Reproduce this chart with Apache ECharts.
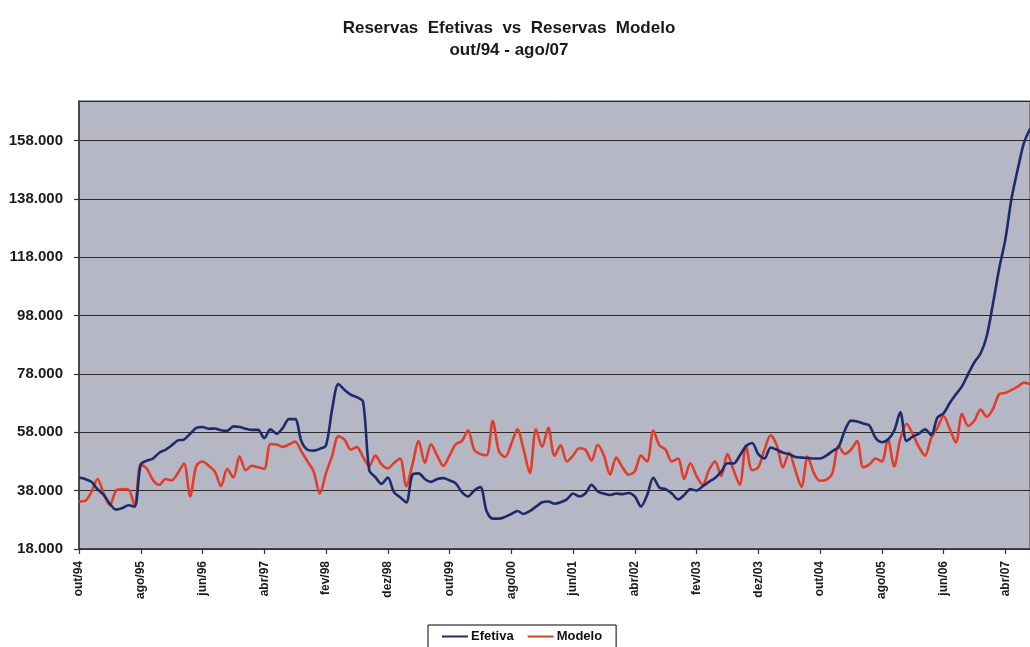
<!DOCTYPE html>
<html>
<head>
<meta charset="utf-8">
<script src="https://cdn.jsdelivr.net/npm/echarts@6/dist/echarts.min.js"></script>
<style>
  html, body { margin: 0; padding: 0; background: #ffffff; }
  #chart { width: 1030px; height: 647px; }
</style>
</head>
<body>
<div id="chart"></div>
<script>
// Monthly series, out/94 .. ago/07 (US$ millions)
const mesesPt = ['jan','fev','mar','abr','mai','jun','jul','ago','set','out','nov','dez'];
const inicioAno = 1994, inicioMes = 9;   // out/94
const totalMeses = 155;                  // through ago/07

const efetiva = [
  42500, 42000, 41000, 38500, 36500, 33500, 31500, 32000, 33000, 32500,
  47000, 48300, 49000, 51000, 52000, 53500, 55200, 55500, 57500, 59500,
  59800, 59200, 59300, 58700, 58500, 60000, 59800, 59200, 58800, 58800,
  56000, 59000, 57500, 59500, 62500, 62500, 55000, 52000, 51700, 52300,
  53500, 66000, 74500, 72500, 70900, 70000, 68500, 45000, 42600, 40300,
  42500, 37500, 35700, 34000, 43500, 43900, 42000, 41000, 42000, 42300,
  41500, 40500, 37500, 36000, 38000, 39200, 31000, 28400, 28400, 29000,
  30000, 31000, 30000, 31000, 32500, 34000, 34300, 33500, 34000, 35000,
  37000, 36000, 37000, 40000, 37700, 37000, 36500, 37000, 36800, 37200,
  36000, 32600, 36500, 42400, 39000, 38500, 37000, 35000, 36500, 38500,
  38000, 39500, 41000, 42300, 44500, 47400, 47300, 50000, 53200, 54300,
  50500, 49000, 52800, 52000, 51000, 50500, 49500, 49300, 49200, 49000,
  49000, 50000, 51500, 53000, 58500, 62000, 61700, 61000, 60300, 56000,
  54600, 55500, 58500, 64800, 55000, 56500, 57500, 59000, 57000, 63000,
  64500, 68000, 71000, 73800, 78000, 82000, 85000, 91000, 102000, 114000,
  124000, 138000, 148000, 157000, 162000
];

const modelo = [
  34300, 34500, 37500, 42000, 37000, 33000, 38000, 38500, 38400, 33000,
  47000, 45500, 41500, 40000, 42000, 41500, 44000, 47300, 36000, 46500,
  48000, 46500, 44500, 39500, 45500, 42500, 49800, 45000, 46500, 46000,
  45500, 54000, 53800, 53000, 53800, 54800, 51500, 48000, 44500, 37000,
  44000, 50000, 56600, 55500, 52000, 52900, 49500, 46500, 50000, 47000,
  45600, 47500, 49000, 39500, 47000, 55000, 47500, 53900, 50000, 46500,
  50000, 53900, 55000, 58600, 52000, 50500, 50100, 61800, 51500, 49500,
  54000, 59000, 52000, 44000, 59000, 53000, 59500, 50000, 53500, 48000,
  50000, 52500, 52000, 48300, 53700, 50000, 43500, 49300, 46000, 43500,
  44600, 50000, 48000, 58600, 53500, 52000, 48000, 49000, 42000, 47400,
  43000, 40000, 45000, 48000, 43000, 50500, 45000, 40000, 53500, 45000,
  46000, 52000, 57000, 53500, 46000, 51000, 45000, 39300, 49700, 44000,
  41400, 41700, 44000, 53400, 50600, 52000, 55000, 46000, 47000, 49000,
  48000, 55600, 46300, 55700, 60900, 57500, 53000, 50000, 56000, 59500,
  63500, 59200, 54500, 64200, 60200, 62000, 65800, 63300, 66000, 71000,
  71500, 72500, 73600, 75000, 74500
];

// Category labels "mmm/aa"
const categorias = [];
for (let k = 0; k < totalMeses; k++) {
  const m = (inicioMes + k) % 12;
  const a = inicioAno + Math.floor((inicioMes + k) / 12);
  categorias.push(mesesPt[m] + '/' + String(a % 100).padStart(2, '0'));
}

const eixoY = { min: 18000, max: 171500, passo: 20000 };

function fmtMilhar(v) {
  const s = String(Math.round(v));
  return s.replace(/\B(?=(\d{3})+(?!\d))/g, '.');
}

const chart = echarts.init(document.getElementById('chart'), null, { renderer: 'canvas' });

chart.setOption({
  backgroundColor: '#ffffff',
  animation: false,
  title: {
    text: 'Reservas  Efetivas  vs  Reservas  Modelo',
    subtext: 'out/94 - ago/07',
    left: 504,
    textAlign: 'center',
    top: 15,
    itemGap: 5,
    textStyle: { fontFamily: 'Liberation Sans, Arial', fontWeight: 'bold', fontSize: 17, color: '#1a1a1a' },
    subtextStyle: { fontFamily: 'Liberation Sans, Arial', fontWeight: 'bold', fontSize: 17, color: '#1a1a1a' }
  },
  legend: {
    data: ['Efetiva', 'Modelo'],
    left: 428,
    top: 625,
    padding: [5, 14, 8, 14],
    itemGap: 14,
    itemWidth: 26,
    itemHeight: 2,
    icon: 'rect',
    borderColor: '#000',
    borderWidth: 1,
    borderRadius: 0,
    backgroundColor: '#ffffff',
    textStyle: { fontFamily: 'Liberation Sans Narrow, Liberation Sans, Arial', fontWeight: 'bold', fontSize: 13, color: '#111', padding: [0, 0, 0, -2] }
  },
  grid: {
    left: 79,
    right: -4,
    top: 101,
    bottom: 98,
    show: true,
    backgroundColor: '#b5b7c5',
    borderColor: '#4a4a4a',
    borderWidth: 1
  },
  xAxis: {
    type: 'category',
    data: categorias,
    boundaryGap: false,
    axisLine: { lineStyle: { color: '#333', width: 1.5 } },
    axisTick: { show: true, interval: 9, length: 5, lineStyle: { color: '#333', width: 1.2 } },
    axisLabel: {
      interval: 9,
      rotate: 90,
      margin: 12,
      fontFamily: 'Liberation Sans, Arial',
      fontWeight: 'bold',
      fontSize: 12,
      color: '#1a1a1a'
    },
    splitLine: { show: false }
  },
  yAxis: {
    type: 'value',
    min: eixoY.min,
    max: eixoY.max,
    interval: eixoY.passo,
    axisLine: { show: true, lineStyle: { color: '#333', width: 1.5 } },
    axisTick: { show: true, length: 5, lineStyle: { color: '#333', width: 1.2 } },
    axisLabel: {
      showMaxLabel: false,
      margin: 16,
      fontFamily: 'Liberation Sans, Arial',
      fontWeight: 'bold',
      fontSize: 15,
      color: '#1a1a1a',
      formatter: fmtMilhar
    },
    splitLine: { show: true, lineStyle: { color: '#2a2a2a', width: 1.2 } }
  },
  series: [
    {
      name: 'Efetiva',
      type: 'line',
      data: efetiva,
      symbol: 'none',
      smooth: 0.3,
      color: '#1d2b6c',
      lineStyle: { width: 2.6, color: '#1d2b6c' },
      z: 3
    },
    {
      name: 'Modelo',
      type: 'line',
      data: modelo,
      symbol: 'none',
      smooth: 0.3,
      color: '#e23d2b',
      lineStyle: { width: 2.6, color: '#e23d2b' },
      z: 2
    }
  ]
});
</script>
</body>
</html>
